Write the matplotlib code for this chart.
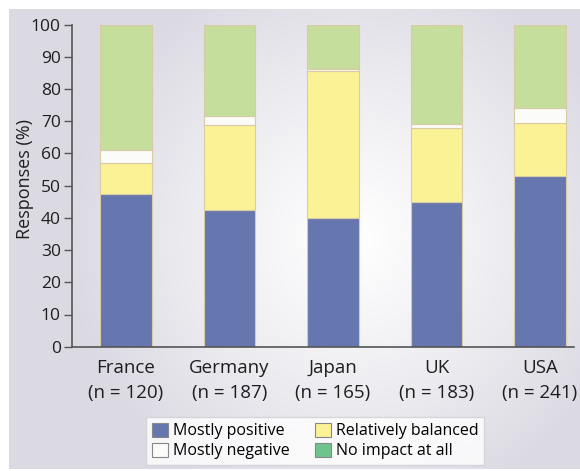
import numpy as np
import matplotlib
matplotlib.use("Agg")
import matplotlib.pyplot as plt
from matplotlib.patches import Patch

plt.rcParams['font.family'] = ['Open Sans', 'DejaVu Sans']

countries = ["France", "Germany", "Japan", "UK", "USA"]
sample_sizes = [120, 187, 165, 183, 241]
mostly_positive = [47.3, 42.5, 39.9, 44.8, 53.1]
relatively_balanced = [9.7, 26.3, 45.6, 23.2, 16.4]
mostly_negative = [4.0, 2.9, 0.7, 1.2, 4.7]
no_impact = [39.0, 28.3, 13.8, 30.8, 25.8]

series = [
    ("Mostly positive", mostly_positive, "#6677b0"),
    ("Relatively balanced", relatively_balanced, "#fbf296"),
    ("Mostly negative", mostly_negative, "#fbfbf9"),
    ("No impact at all", no_impact, "#c6de9c"),
]
legend_colors = {
    "Mostly positive": "#6677b0",
    "Relatively balanced": "#fbf296",
    "Mostly negative": "#fbfbf9",
    "No impact at all": "#6ec48c",
}

W, H, DPI = 580, 471, 100
fig = plt.figure(figsize=(W / DPI, H / DPI), dpi=DPI)
fig.patch.set_facecolor("white")

# soft radial background panel
bg = fig.add_axes([9 / W, 2 / H, 1 - 9 / W, 1 - 11 / H])
bg.set_axis_off()
yy, xx = np.mgrid[0:1:300j, 0:1:400j]
r = np.sqrt(((xx - 0.6) / 0.5) ** 2 + ((yy - 0.5) / 0.62) ** 2)
t = np.clip(r, 0, 1) ** 1.1
c_in = np.array([1.0, 1.0, 1.0])
c_out = np.array([0.86, 0.855, 0.89])
img = c_in[None, None, :] * (1 - t[..., None]) + c_out[None, None, :] * t[..., None]
bg.imshow(img, aspect="auto", extent=[0, 1, 0, 1], interpolation="bilinear")

ax = fig.add_axes([72 / W, 1 - 346.7 / H, (574 - 72) / W, 322 / H])
ax.patch.set_alpha(0)

x = np.arange(len(countries))
bottom = np.zeros(len(countries))
for label, vals, color in series:
    ax.bar(x, vals, width=0.5, bottom=bottom, color=color,
           edgecolor="#d9cba6", linewidth=0.8, label=label, zorder=2)
    bottom += np.array(vals)

ax.set_ylim(0, 100)
ax.set_xlim(-0.522, 4.33)
ax.set_yticks(np.arange(0, 101, 10))
ax.tick_params(axis="y", direction="out", length=6, width=1, color="#555555",
               labelsize=12.5, pad=2, labelcolor="#1e1e1e")
ax.set_xticks(x)
ax.set_xticklabels([f"{c}\n(n = {n})" for c, n in zip(countries, sample_sizes)],
                   fontsize=13.5, color="#1e1e1e", linespacing=1.5)
ax.tick_params(axis="x", length=0, pad=9)
for s in ["top", "right"]:
    ax.spines[s].set_visible(False)
for s in ["left", "bottom"]:
    ax.spines[s].set_color("#555555")
    ax.spines[s].set_linewidth(1.2)

ax.set_ylabel("Responses (%)", fontsize=13, color="#1e1e1e")
ax.yaxis.set_label_coords(-0.076, 0.52)

handles = [Patch(facecolor=legend_colors[n], edgecolor="#888888", linewidth=0.8, label=n)
           for n in ["Mostly positive", "Mostly negative", "Relatively balanced", "No impact at all"]]
leg = fig.legend(handles=handles, ncol=2, loc="center",
                 bbox_to_anchor=(315 / W, 1 - 441 / H), fontsize=11.5,
                 frameon=True, fancybox=False, handlelength=1.0, handleheight=1.0,
                 handletextpad=0.3, columnspacing=1.6, labelspacing=0.2,
                 borderpad=0.35)
leg.get_frame().set_edgecolor("#cfcfd4")
leg.get_frame().set_linewidth(1.0)
leg.get_frame().set_facecolor("white")

fig.savefig("out.png", dpi=DPI, facecolor=fig.get_facecolor())
